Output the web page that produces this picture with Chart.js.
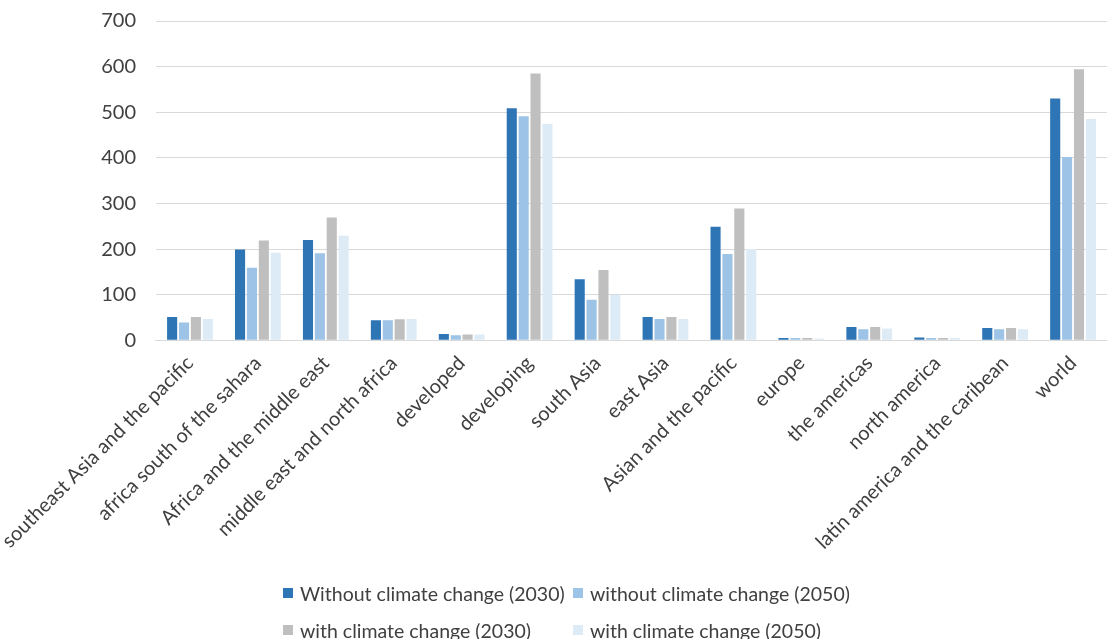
<!DOCTYPE html>
<html>
<head>
<meta charset="utf-8">
<script src="https://cdn.jsdelivr.net/npm/chart.js@4"></script>
<style>
  body { margin: 0; background: #fff; font-family: Lato, "Open Sans", sans-serif; }
  #wrap { position: relative; width: 1107px; height: 639px; overflow: hidden; }
  #legend { position: absolute; left: 283px; top: 579px; display: grid; grid-template-columns: 290px 290px; row-gap: 9px; }
  .item { display: flex; align-items: center; font-size: 19.5px; color: #404040; height: 28px; white-space: nowrap; }
  .box { width: 10px; height: 10px; margin-right: 7px; }
</style>
</head>
<body>
<div id="wrap">
  <canvas id="chart" width="1107" height="639"></canvas>
  <div id="legend"></div>
</div>
<script>
const categories = [
  "southeast Asia and the pacific", "africa south of the sahara", "Africa and the middle east",
  "middle east and north africa", "developed", "developing", "south Asia", "east Asia",
  "Asian and the pacific", "europe", "the americas", "north america",
  "latin america and the caribean", "world"
];
const seriesNames = [
  "Without climate change (2030)", "without climate change (2050)",
  "with climate change (2030)", "with climate change (2050)"
];
const seriesColors = ["#2E75B6", "#9DC3E6", "#BFBFBF", "#DDEBF7"];

const withoutCC2030 = [51, 199, 220, 44, 14, 509, 134, 51, 249, 5, 29, 6, 27, 530];
const withoutCC2050 = [39, 159, 191, 44, 11, 491, 89, 47, 189, 5, 24, 5, 24, 402];
const withCC2030 = [51, 219, 269, 46, 13, 585, 154, 51, 289, 5, 29, 5, 27, 594];
const withCC2050 = [47, 192, 229, 47, 13, 474, 100, 47, 200, 4, 26, 5, 24, 485];

const yTicks = [0, 100, 200, 300, 400, 500, 600, 700];

const allSeries = [withoutCC2030, withoutCC2050, withCC2030, withCC2050];

const ctx = document.getElementById("chart").getContext("2d");
new Chart(ctx, {
  type: "bar",
  data: {
    labels: categories,
    datasets: allSeries.map((vals, i) => ({
      label: seriesNames[i],
      data: vals,
      backgroundColor: seriesColors[i],
      borderWidth: 0,
      categoryPercentage: 0.7,
      barPercentage: 0.85
    }))
  },
  options: {
    responsive: false,
    animation: false,
    layout: { padding: { top: 0, bottom: 82, left: 5, right: 0 } },
    plugins: { legend: { display: false }, tooltip: { enabled: false } },
    scales: {
      x: {
        grid: { display: false },
        border: { color: "#D9D9D9" },
        ticks: {
          autoSkip: false, minRotation: 45, maxRotation: 45,
          color: "#404040", font: { family: "Lato", size: 20 }
        }
      },
      y: {
        min: yTicks[0], max: yTicks[yTicks.length - 1],
        grid: { color: "#D9D9D9", drawTicks: true, tickLength: 11, tickColor: "rgba(0,0,0,0)" },
        border: { display: false },
        ticks: {
          stepSize: 100, padding: 9,
          color: "#404040", font: { family: "Lato", size: 20 }
        }
      }
    }
  }
});

const legend = document.getElementById("legend");
seriesNames.forEach((name, i) => {
  const div = document.createElement("div");
  div.className = "item";
  div.innerHTML = `<span class="box" style="background:${seriesColors[i]}"></span>${name}`;
  legend.appendChild(div);
});
</script>
</body>
</html>
